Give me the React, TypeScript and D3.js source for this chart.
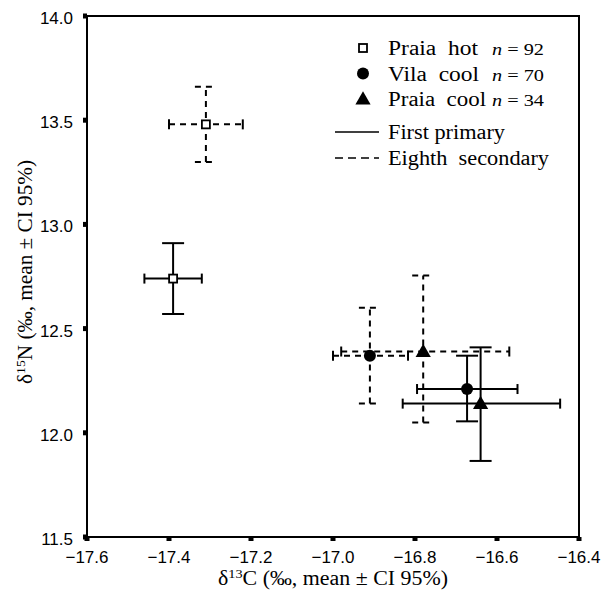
import React from "react";
import * as d3 from "d3";

const groups = ["Praia hot", "Vila cool", "Praia cool"];
const groupN = ["92", "70", "34"];
const groupShape = ["square", "circle", "triangle"];
const feathers = ["First primary", "Eighth secondary"];

const pointGroup = [0, 0, 1, 1, 2, 2];
const pointFeather = [0, 1, 0, 1, 0, 1];
const meanC = [-17.39, -17.31, -16.673, -16.91, -16.64, -16.78];
const lowC = [-17.46, -17.40, -16.795, -17.0, -16.83, -16.98];
const highC = [-17.32, -17.22, -16.55, -16.817, -16.446, -16.57];
const meanN = [12.74, 13.48, 12.21, 12.37, 12.14, 12.39];
const lowN = [12.57, 13.30, 12.055, 12.14, 11.865, 12.05];
const highN = [12.91, 13.66, 12.37, 12.60, 12.41, 12.755];

const xTicks = [-17.6, -17.4, -17.2, -17.0, -16.8, -16.6, -16.4];
const yTicks = [11.5, 12.0, 12.5, 13.0, 13.5, 14.0];

const W = 601;
const H = 598;
const L = 87, R = 579, T = 16, B = 537;

export default function App() {
  const x = d3.scaleLinear().domain([-17.6, -16.4]).range([L, R]);
  const y = d3.scaleLinear().domain([11.5, 14.0]).range([B, T]);
  const serif = "'Liberation Serif', 'Times New Roman', serif";
  const sans = "'Liberation Sans', Arial, sans-serif";
  const dash = "6,5";

  const marker = (shape: string, cx: number, cy: number, key?: string) => {
    if (shape === "square")
      return <rect key={key} x={cx - 4} y={cy - 4} width={8} height={8} fill="#fff" stroke="#000" strokeWidth={1.8} />;
    if (shape === "circle") return <circle key={key} cx={cx} cy={cy} r={6} fill="#000" />;
    const tri = d3.symbol(d3.symbolTriangle, 100)();
    return <path key={key} d={tri || ""} transform={`translate(${cx},${cy + 1})`} fill="#000" />;
  };

  const order = [1, 3, 5, 0, 2, 4];
  const groupLen = [90, 91, 98];
  const featherLen = [117, 161];

  return (
    <div style={{ position: "absolute", left: 0, top: 0 }}>
      <svg width={W} height={H} style={{ display: "block", background: "#fff" }}>
        <rect x={L} y={T} width={R - L} height={B - T} fill="none" stroke="#000" strokeWidth={2} />
        {xTicks.map((t) => (
          <g key={"xt" + t}>
            <rect x={x(t) - 2.5} y={B} width={5} height={4} fill="#000" />
            <text x={x(t)} y={B + 26} textAnchor="middle" fontFamily={sans} fontSize={17}>
              {t < 0 ? "\u2212" + Math.abs(t).toFixed(1) : t.toFixed(1)}
            </text>
          </g>
        ))}
        {yTicks.map((t) => (
          <g key={"yt" + t}>
            <rect x={L - 4} y={y(t) - 2.5} width={4} height={5} fill="#000" />
            <text x={L - 14} y={y(t) + 8} textAnchor="end" fontFamily={sans} fontSize={17}>
              {t.toFixed(1)}
            </text>
          </g>
        ))}
        <text x={333} y={585} textAnchor="middle" fontFamily={serif} fontSize={20} textLength={230} lengthAdjust="spacingAndGlyphs">
          δ<tspan fontSize={13} dy={-7}>13</tspan>
          <tspan dy={7}>C (‰, mean ± CI 95%)</tspan>
        </text>
        <text
          transform={`translate(32,272) rotate(-90)`}
          textAnchor="middle"
          fontFamily={serif}
          fontSize={20}
          textLength={224}
          lengthAdjust="spacingAndGlyphs"
        >
          δ<tspan fontSize={13} dy={-7}>15</tspan>
          <tspan dy={7}>N (‰, mean ± CI 95%)</tspan>
        </text>
        {order.map((i) => {
          const da = pointFeather[i] === 1 ? dash : undefined;
          const cx = x(meanC[i]);
          const cy = y(meanN[i]);
          const cap = 11;
          const hcap = 5;
          return (
            <g key={"eb" + i} stroke="#000" strokeWidth={2} fill="none">
              <line x1={x(lowC[i])} x2={x(highC[i])} y1={cy} y2={cy} strokeDasharray={da} />
              <line x1={cx} x2={cx} y1={y(lowN[i])} y2={y(highN[i])} strokeDasharray={da} />
              <line x1={x(lowC[i])} x2={x(lowC[i])} y1={cy - hcap} y2={cy + hcap} />
              <line x1={x(highC[i])} x2={x(highC[i])} y1={cy - hcap} y2={cy + hcap} />
              <line x1={cx - cap} x2={cx + cap} y1={y(lowN[i])} y2={y(lowN[i])} strokeDasharray={da} />
              <line x1={cx - cap} x2={cx + cap} y1={y(highN[i])} y2={y(highN[i])} strokeDasharray={da} />
            </g>
          );
        })}
        {order.map((i) => marker(groupShape[pointGroup[i]], x(meanC[i]), y(meanN[i]), "m" + i))}
        {groups.map((g, k) => {
          const ly = 48 + k * 25.5;
          return (
            <g key={"lg" + k}>
              {marker(groupShape[k], 363, ly)}
              <text x={388} y={ly + 7} fontFamily={serif} fontSize={20} textLength={groupLen[k]} lengthAdjust="spacingAndGlyphs">
                {g.replace(" ", "\u00a0\u00a0")}
              </text>
              <text x={492} y={ly + 7} fontFamily={serif} fontSize={17} textLength={52} lengthAdjust="spacingAndGlyphs">
                <tspan fontStyle="italic">n</tspan> = {groupN[k]}
              </text>
            </g>
          );
        })}
        {feathers.map((f, k) => {
          const ly = 132 + k * 26;
          return (
            <g key={"lf" + k}>
              <line x1={335} x2={379} y1={ly} y2={ly} stroke="#000" strokeWidth={1.3} strokeDasharray={k === 1 ? "8,5" : undefined} />
              <text x={388} y={ly + 7} fontFamily={serif} fontSize={20} textLength={featherLen[k]} lengthAdjust="spacingAndGlyphs">
                {k === 0 ? f : f.replace(" ", "\u00a0\u00a0")}
              </text>
            </g>
          );
        })}
      </svg>
    </div>
  );
}
